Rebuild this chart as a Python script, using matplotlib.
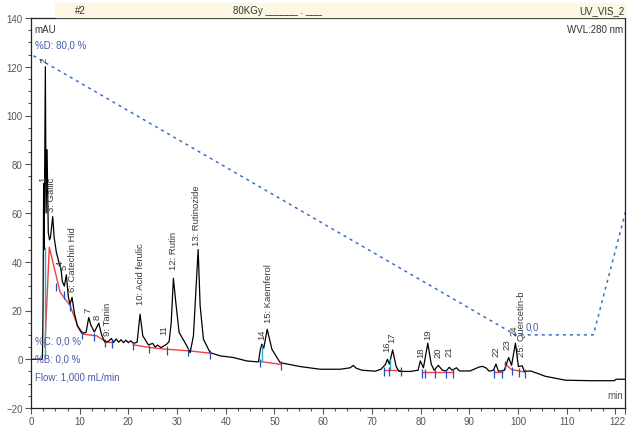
import matplotlib
matplotlib.use("Agg")
import matplotlib.pyplot as plt
from matplotlib.patches import Rectangle
from matplotlib.ticker import MultipleLocator

plt.rcParams['font.family'] = ['Liberation Sans', 'DejaVu Sans']

# chromatogram trace (time in min, signal in mAU)
trace_t = [0, 2.26, 2.35, 2.47, 2.6, 2.7, 2.95, 3.1, 3.3, 3.55, 3.8, 4.0, 4.46,
           4.75, 5.2, 5.7, 6.17, 6.43, 6.84, 7.26, 7.67, 8.02, 8.43, 8.9, 9.52,
           10.42, 11.3, 11.86, 12.3, 13.01, 13.92, 14.5, 15.21, 16, 16.5, 17, 17.5,
           18, 18.5, 19, 19.5, 20, 20.5, 21.03, 21.8, 22.4, 22.96, 24.11, 25, 25.5,
           26, 26.7, 27.3, 27.89, 28.37, 28.8, 29.25, 29.74, 30.42, 32.0, 32.68,
           33.36, 34.33, 34.74, 35.42, 36.79, 38.85, 41.58, 44.34, 46.72, 47.1,
           47.42, 47.8, 48.51, 49.48, 51.18, 55.29, 59.4, 63.5, 65.57, 66.2, 66.8,
           68.0, 70.7, 71.9, 72.8, 73.2, 73.6, 74.27, 75.0, 75.6, 77.9, 79.5, 79.96,
           80.6, 81.5, 82.2, 82.8, 83.66, 84.5, 85.3, 85.9, 86.5, 87.4, 88.0, 90.2,
           91.9, 92.7, 93.5, 94.1, 94.96, 95.5, 96.0, 97.2, 98.1, 98.7, 99.5, 100.1,
           100.9, 101.3, 102.6, 103.6, 105.65, 107.7, 109.8, 114.9, 119.8, 120.2, 122]
trace_y = [0, 0, 1, 20, 72, 45, 120, 60, 86, 52, 49, 50, 58.5,
           50, 44, 40, 37, 32, 30, 34.6, 25.5, 22.6, 25.4, 19, 13.7,
           10.7, 11, 17.1, 14, 11.2, 14.8, 10, 6.9, 7.5, 8.5, 7, 8.3,
           7, 8, 6.8, 7.8, 6.8, 7.6, 6.5, 7, 18.5, 9.6, 5.9, 6.5, 5,
           5.8, 4.8, 5.5, 6.2, 7.3, 15, 33.2, 23.3, 11, 5.5, 2.7,
           9.6, 45, 21.9, 8.2, 2.7, 1.4, 0.7, -0.7, -1.1, 4,
           6.2, 4.5, 12.3, 4.1, -1.4, -3, -4.1, -4.1, -3.5, -2.5, -3.7,
           -4.5, -4.9, -4.1, -2.1, 0, -2, 3.8, -3, -5, -5, -4.5, -0.7,
           -3.5, 6.6, -2, -4.5, -2.5, -4.5, -4.8, -3.3, -4.5, -3.5, -4.8, -4.8,
           -3.3, -2.9, -3.6, -4.9, -4.5, -2, -4.9, -4.6, 0.7, -2.5, 6.6, -3,
           -2.7, -5, -4.8, -5.5, -7, -7.8, -8.6, -8.8, -8.8, -8.2, -8.2]

# integration baselines (red)
base_segments = [
    ([2.85, 3.76, 5.96, 8.02, 9.6, 10.75, 13.5, 15.56, 16.92],
     [5, 46, 27.6, 22, 13.7, 10.3, 9.6, 6.9, 6.9]),
    ([21.03, 24.45, 27.89, 32.68, 36.79], [5.9, 4.8, 4.1, 3.4, 2.5]),
    ([47.07, 51.18], [-0.9, -2.1]),
    ([72.4, 76.0], [-4.5, -4.5]),
    ([80.3, 86.7], [-5.3, -5.3]),
    ([95.0, 96.8], [-5.3, -5.3]),
    ([97.4, 98.7, 101.5], [-2, -4.2, -5.3]),
]

# peak start drops (cyan)
drop_t = [2.88, 47.5, 73.8]
drop_lo = [0, -1, -4.5]
drop_hi = [46, 6, 0]

# peak boundary ticks (blue)
tick_t = [5.2, 6.84, 8.0, 10.4, 12.9, 15.2, 16.6, 21.0, 24.3, 28.0, 32.2, 36.8,
          47.1, 51.3, 72.4, 73.5, 76.0, 80.3, 81.0, 83.0, 85.3, 86.7, 95.0, 96.8,
          97.4, 98.7, 100.3, 101.5]
tick_y = [30, 27, 22, 10.5, 9.7, 7.3, 6.9, 5.9, 4.8, 4.1, 3.4, 2.5,
          -0.9, -2.1, -4.5, -4.5, -4.5, -5.3, -5.3, -5.3, -5.3, -5.3, -5.3, -5.3,
          -2, -4.2, -4.9, -5.3]

# gradient %D (dashed)
grad_t = [0.5, 99.5, 115.5, 122.5]
grad_y = [124.5, 10, 10, 63.5]

# peak labels
peak_names = ['1', '2', '3: Gallic', '4', '5', '6: Catechin Hid', '7', '8', '9: Tanin',
              '10: Acid ferulic', '11', '12: Rutin', '13: Rutinozide', '14',
              '15: Kaemferol', '16', '17', '18', '19', '20', '21', '22', '23', '24',
              '25: Quercetin-b']
peak_t = [2.4, 2.75, 4.2, 6.1, 6.9, 8.5, 11.7, 13.5, 15.8, 22.4, 27.3, 29.2, 34.0,
          47.5, 48.7, 73.0, 74.1, 80.0, 81.4, 83.5, 85.9, 95.4, 97.8, 99.3, 100.7]
peak_y = [73, 122, 61, 38.7, 37, 28, 19.3, 16.5, 9.9, 22.6, 10.3, 37, 47,
          8.2, 15.2, 3.3, 7, 0.8, 8.2, 0.8, 1.2, 1.2, 4.1, 9.9, 1.2]

fig = plt.figure(figsize=(6.29, 4.31), dpi=100)
ax = fig.add_axes([31 / 629, 22 / 431, 594 / 629, 390 / 431])

ax.plot(grad_t, grad_y, color='#3a6fc4', linewidth=1.1, dashes=(2, 2.6), clip_on=True)
for bt, by in base_segments:
    ax.plot(bt, by, color='#f04040', linewidth=1.0)
ax.plot(trace_t, trace_y, color='black', linewidth=0.9)
ax.vlines(drop_t, drop_lo, drop_hi, color='#20b0d0', linewidth=1.0)
ax.vlines(tick_t, [v - 2.2 for v in tick_y], [v + 1.2 for v in tick_y],
          color='#2050c0', linewidth=0.9)

for name, t, y in zip(peak_names, peak_t, peak_y):
    ax.text(t, y, name, rotation=90, ha='center', va='bottom', fontsize=6.8,
            color='#3a3a3a')

ax.set_xlim(0, 122)
ax.set_ylim(-20, 140)
ax.set_xticks([0, 10, 20, 30, 40, 50, 60, 70, 80, 90, 100, 110, 120, 122])
ax.set_xticklabels(['0', '10', '20', '30', '40', '50', '60', '70', '80', '90',
                    '100', '110', '', '122'])
ax.get_xticklabels()[-1].set_horizontalalignment('right')
ax.set_yticks(range(-20, 141, 20))
ax.xaxis.set_minor_locator(MultipleLocator(2.5))
ax.yaxis.set_minor_locator(MultipleLocator(5))
ax.tick_params(which='major', length=4, width=0.8, labelsize=7, colors='#555555', pad=2)
ax.tick_params(which='minor', length=2.5, width=0.8, colors='#555555')
for sp in ax.spines.values():
    sp.set_linewidth(0.9)
    sp.set_color('#222222')

# text inside the plot
blue = '#4a5aa8'
ax.text(0.006, 0.985, 'mAU', transform=ax.transAxes, fontsize=7, va='top', color='#333333')
ax.text(0.997, 0.985, 'WVL:280 nm', transform=ax.transAxes, fontsize=7, va='top',
        ha='right', color='#333333')
ax.text(0.006, 0.945, '%D: 80,0 %', transform=ax.transAxes, fontsize=7, va='top', color=blue)
ax.text(0.006, 0.185, '%C: 0,0 %', transform=ax.transAxes, fontsize=7, va='top', color=blue)
ax.text(0.006, 0.14, '%B: 0,0 %', transform=ax.transAxes, fontsize=7, va='top', color=blue)
ax.text(0.006, 0.093, 'Flow: 1,000 mL/min', transform=ax.transAxes, fontsize=7, va='top',
        color=blue)
ax.text(101.6, 11.5, '0,0', fontsize=7, color=blue, va='bottom')
ax.text(0.997, 0.02, 'min', transform=ax.transAxes, fontsize=7, ha='right', va='bottom',
        color='#555555')

# header strip
fig.patches.append(Rectangle((55 / 629, 1 - 18 / 431), 570 / 629, 14 / 431,
                             transform=fig.transFigure, color='#fdf6e3', zorder=0))
fig.text(75 / 629, 1 - 11 / 431, '#2', fontsize=7, va='center', color='#333333')
fig.text(233 / 629, 1 - 11 / 431, '80KGy ______ . ___', fontsize=7, va='center',
         color='#333333')
fig.text(625 / 629, 1 - 11 / 431, 'UV_VIS_2', fontsize=7, va='center', ha='right',
         color='#333333')

fig.savefig('out.png', dpi=100)
